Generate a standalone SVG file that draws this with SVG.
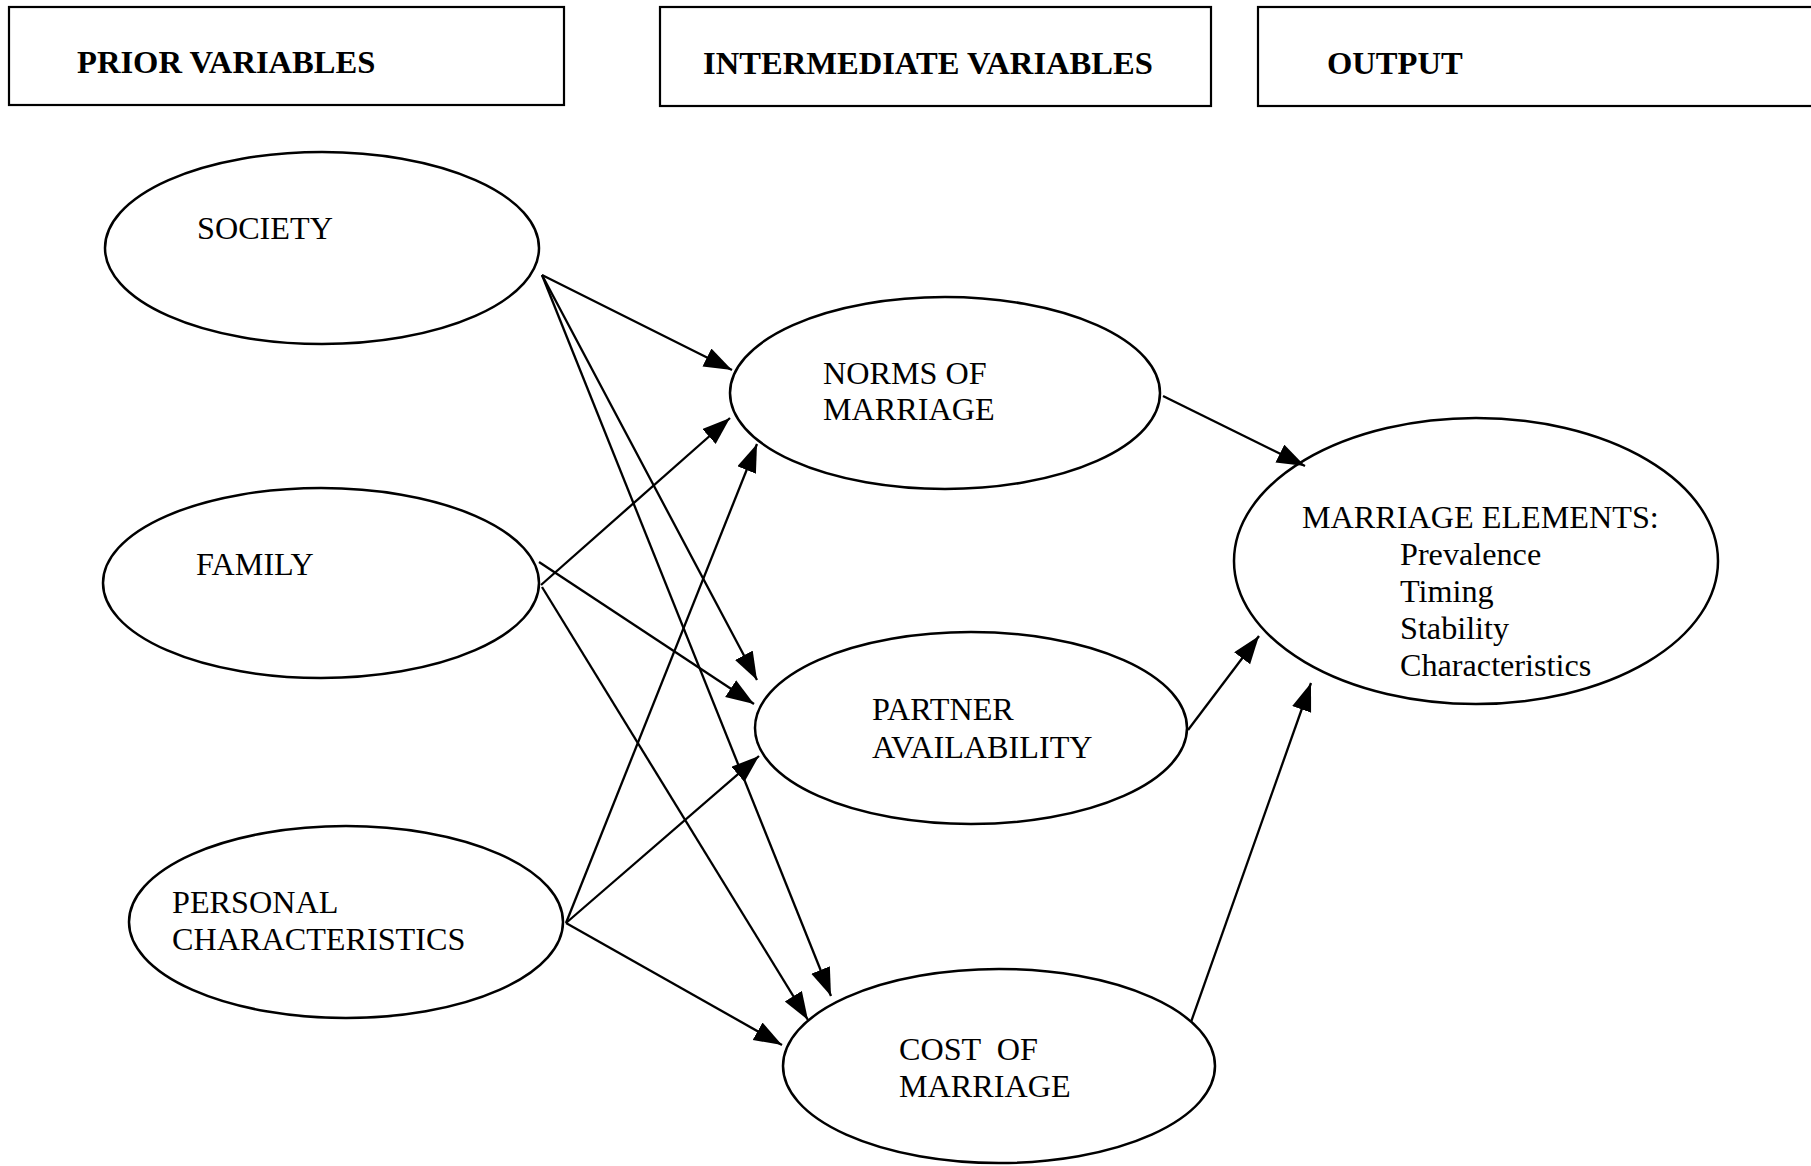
<svg xmlns="http://www.w3.org/2000/svg" width="1811" height="1166" viewBox="0 0 1811 1166">
<defs>
<marker id="ah" markerUnits="userSpaceOnUse" markerWidth="30" markerHeight="22" refX="28" refY="10" orient="auto">
<path d="M0,0 L28,10 L0,20 z" fill="#000"/>
</marker>
</defs>
<style>
.box{fill:none;stroke:#000;stroke-width:2.2}
.node ellipse{fill:#fff;stroke:#000;stroke-width:2.5}
.hdr{font-family:"Liberation Serif","Times New Roman",serif;font-weight:bold;font-size:32.6px;fill:#000}
.lbl{font-family:"Liberation Serif","Times New Roman",serif;font-size:32.2px;fill:#000;white-space:pre}
.edge{stroke:#000;stroke-width:2.3;fill:none;marker-end:url(#ah)}
</style>
<rect width="1811" height="1166" fill="#fff"/>
<g id="header-prior">
<rect class="box" x="9" y="7" width="555" height="98"/>
<text class="hdr" x="77" y="73">PRIOR VARIABLES</text>
</g>
<g id="header-intermediate">
<rect class="box" x="660" y="7" width="551" height="99"/>
<text class="hdr" x="703" y="74">INTERMEDIATE VARIABLES</text>
</g>
<g id="header-output">
<rect class="box" x="1258" y="7" width="600" height="99"/>
<text class="hdr" x="1327" y="74">OUTPUT</text>
</g>
<g id="society" class="node">
<ellipse cx="322" cy="248" rx="217" ry="96"/>
<text class="lbl" x="197" y="239">SOCIETY</text>
</g>
<g id="family" class="node">
<ellipse cx="321" cy="583" rx="218" ry="95"/>
<text class="lbl" x="196" y="575">FAMILY</text>
</g>
<g id="personal" class="node">
<ellipse cx="346" cy="922" rx="217" ry="96"/>
<text class="lbl" x="172" y="913">PERSONAL</text>
<text class="lbl" x="172" y="950">CHARACTERISTICS</text>
</g>
<g id="norms" class="node">
<ellipse cx="945" cy="393" rx="215" ry="96"/>
<text class="lbl" x="823" y="384">NORMS OF</text>
<text class="lbl" x="823" y="420">MARRIAGE</text>
</g>
<g id="partner" class="node">
<ellipse cx="971" cy="728" rx="216" ry="96"/>
<text class="lbl" x="872" y="720">PARTNER</text>
<text class="lbl" x="872" y="758">AVAILABILITY</text>
</g>
<g id="cost" class="node">
<ellipse cx="999" cy="1066" rx="216" ry="97"/>
<text class="lbl" x="899" y="1060">COST  OF</text>
<text class="lbl" x="899" y="1097">MARRIAGE</text>
</g>
<g id="marriage-elements" class="node">
<ellipse cx="1476" cy="561" rx="242" ry="143"/>
<text class="lbl" x="1302" y="528">MARRIAGE ELEMENTS:</text>
<text class="lbl" x="1400" y="565">Prevalence</text>
<text class="lbl" x="1400" y="602">Timing</text>
<text class="lbl" x="1400" y="639">Stability</text>
<text class="lbl" x="1400" y="676">Characteristics</text>
</g>
<g id="connectors">
<line class="edge" x1="542" y1="275" x2="732" y2="370"/>
<line class="edge" x1="542" y1="275" x2="757" y2="680"/>
<line class="edge" x1="542" y1="275" x2="831" y2="996"/>
<line class="edge" x1="541" y1="585" x2="730" y2="418"/>
<line class="edge" x1="539" y1="562" x2="754" y2="704"/>
<line class="edge" x1="542" y1="587" x2="808" y2="1020"/>
<line class="edge" x1="566" y1="923" x2="757" y2="444"/>
<line class="edge" x1="566" y1="923" x2="759" y2="756"/>
<line class="edge" x1="566" y1="923" x2="782" y2="1045"/>
<line class="edge" x1="1163" y1="396" x2="1305" y2="466"/>
<line class="edge" x1="1188" y1="730" x2="1259" y2="636"/>
<line class="edge" x1="1191" y1="1022" x2="1311" y2="683"/>
</g>
</svg>
